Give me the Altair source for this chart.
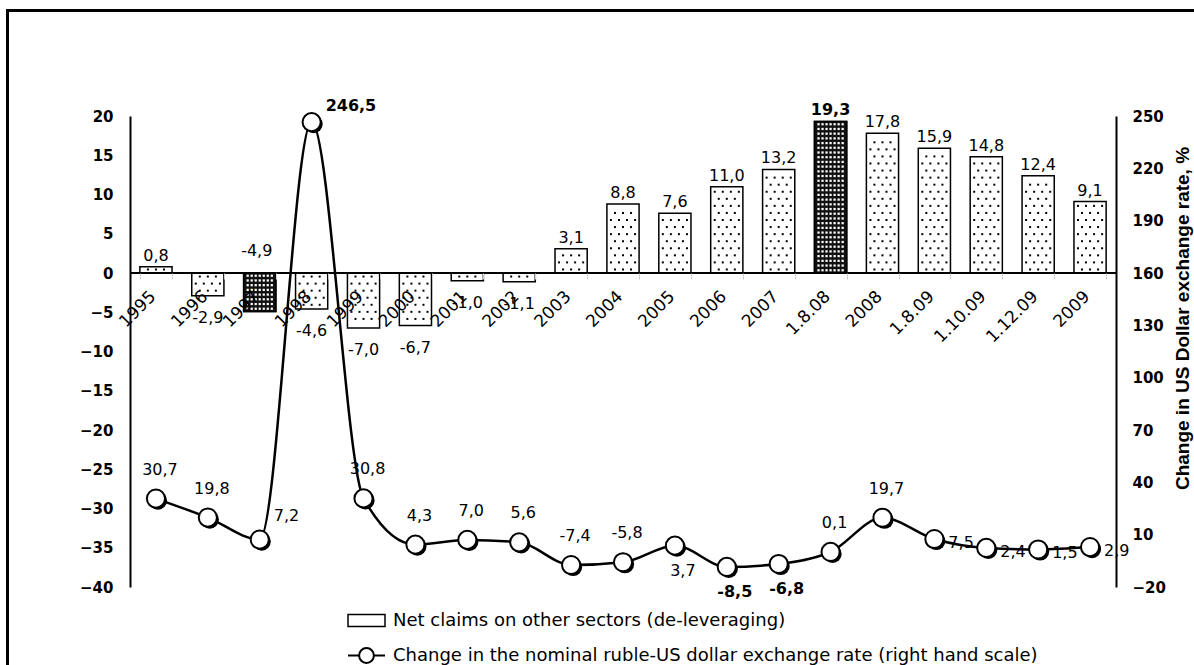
import altair as alt
import pandas as pd

# ---------------- data ----------------
categories = ["1995", "1996", "1997", "1998", "1999", "2000", "2001", "2002", "2003",
              "2004", "2005", "2006", "2007", "1.8.08", "2008", "1.8.09", "1.10.09",
              "1.12.09", "2009"]
net_claims = [0.8, -2.9, -4.9, -4.6, -7.0, -6.7, -1.0, -1.1, 3.1, 8.8, 7.6, 11.0, 13.2,
              19.3, 17.8, 15.9, 14.8, 12.4, 9.1]
fx_change = [30.7, 19.8, 7.2, 246.5, 30.8, 4.3, 7.0, 5.6, -7.4, -5.8, 3.7, -8.5, -6.8,
             0.1, 19.7, 7.5, 2.4, 1.5, 2.9]

bar_name = "Net claims on other sectors (de-leveraging)"
line_name = "Change in the nominal ruble-US dollar exchange rate (right hand scale)"
right_title = "Change in US Dollar exchange rate, %"

# ---------------- styling groups ----------------
highlight = ["1997", "1.8.08"]
bold_bar_labels = ["1.8.08"]
line_below = ["2005", "2006", "2007"]
line_right = ["1.8.09", "1.10.09", "1.12.09", "2009"]
line_upright = ["1997", "1998"]
bold_line_labels = ["1998", "2006", "2007"]


def fmt(v):
    return f"{v:.1f}".replace(".", ",")


df = pd.DataFrame({"cat": categories, "claims": net_claims, "fx": fx_change})
df["claims_lbl"] = [fmt(v) for v in net_claims]
df["fx_lbl"] = [fmt(v) for v in fx_change]
df["dark"] = df["cat"].isin(highlight)
df["bar_series"] = bar_name
df["line_series"] = line_name

W, H = 986, 471
FONT = "DejaVu Sans"

x_axis = alt.Axis(
    labelAngle=-45, labelFont=FONT, labelFontSize=17, labelColor="black",
    domain=False, ticks=True, tickBand="extent", tickColor="#cfcfcf",
    tickSize=6, labelPadding=9, labelOffset=-9, offset=-(H * 2 / 3), zindex=1,
)
x_scale = alt.Scale(paddingInner=0.38, paddingOuter=0.19)


def xe(band_pos=None):
    if band_pos is None:
        return alt.X("cat:N", sort=categories, title=None, scale=x_scale, axis=x_axis)
    return alt.X("cat:N", sort=categories, title=None, scale=x_scale, axis=x_axis,
                 bandPosition=band_pos)


x_enc = xe()

left_scale = alt.Scale(domain=[-40, 20], nice=False, zero=False)
right_scale = alt.Scale(domain=[-20, 250], nice=False, zero=False)

left_axis = alt.Axis(
    values=list(range(-40, 21, 5)), labelFont=FONT, labelFontWeight="bold",
    labelFontSize=15, labelColor="black", domainColor="black", domainWidth=2,
    ticks=False, labelPadding=17, grid=False, title=None,
)
right_axis = alt.Axis(
    orient="right", values=list(range(-20, 251, 30)), labelFont=FONT,
    labelFontWeight="bold", labelFontSize=15, labelColor="black",
    domainColor="black", domainWidth=2, ticks=False, labelPadding=16, grid=False,
    title=right_title, titleFont="Liberation Sans", titleFontWeight="bold",
    titleFontSize=19, titleColor="black", titleAngle=270, titleBaseline="top",
    titleAlign="center", titleX=57, titleY=202,
)


def ly(field):
    return alt.Y(field, scale=left_scale, axis=left_axis, title=None)


def ry(field):
    return alt.Y(field, scale=right_scale, axis=right_axis, title=right_title)


base = alt.Chart(df)

frame = alt.Chart(pd.DataFrame({"f": [0]})).mark_rect(
    fillOpacity=0, stroke="black", strokeWidth=3
).encode(
    x=alt.value(-122.5), x2=alt.value(W + 90), y=alt.value(-105.5), y2=alt.value(H + 90)
)

bars = base.mark_bar(stroke="black", strokeWidth=1.5).encode(
    x=x_enc,
    y=ly("claims:Q"),
    fill=alt.Fill(
        "bar_series:N",
        scale=alt.Scale(domain=[bar_name], range=["white"]),
        legend=alt.Legend(
            title=None, orient="none", legendX=217, legendY=485, padding=0,
            symbolType="M-1,-0.32H1V0.32H-1Z", symbolSize=1369,
            symbolStrokeColor="black", symbolStrokeWidth=1.5,
            labelFont=FONT, labelFontSize=18,
            labelColor="black", labelLimit=0, labelOffset=7,
        ),
    ),
)

# dotted fill pattern, one layer per column inside the bar
light_src = base.transform_filter("!datum.dark").transform_calculate(
    rows="sequence(0, max(1, floor((abs(datum.claims) - 0.75) / 0.9) + 1))"
).transform_flatten(["rows"]).transform_calculate(
    dy="(datum.claims < 0 ? -1 : 1) * (0.45 + datum.rows * 0.9)",
    par="datum.rows % 2",
)
light_dots = [
    light_src.transform_filter(f"datum.par == {0 if c % 2 == 1 else 1}").mark_square(
        size=4, color="black", opacity=1
    ).encode(x=xe((c + 1) / 8), y=ly("dy:Q"))
    for c in range(7)
]

dark_bars = base.transform_filter("datum.dark").mark_bar(
    fill="#111111", stroke="black", strokeWidth=1.5
).encode(x=x_enc, y=ly("claims:Q"))

dark_src = base.transform_filter("datum.dark").transform_calculate(
    rows="sequence(0, max(1, floor((abs(datum.claims) - 0.5) / 0.6) + 1))"
).transform_flatten(["rows"]).transform_calculate(
    dy="(datum.claims < 0 ? -1 : 1) * (0.35 + datum.rows * 0.6)",
)
dark_dots = [
    dark_src.mark_square(size=5, color="white", opacity=1).encode(
        x=xe((c + 1) / 8), y=ly("dy:Q")
    )
    for c in range(7)
]

zero = alt.Chart(pd.DataFrame({"z": [0]})).mark_rule(color="black", strokeWidth=2).encode(
    y=ly("z:Q")
)


def in_list(cats):
    return "indexof([" + ",".join(f"'{c}'" for c in cats) + "], datum.cat) >= 0"


bar_lbl_pos = base.transform_filter(
    f"datum.claims >= 0 && !({in_list(bold_bar_labels)})"
).mark_text(
    baseline="bottom", dy=-3, font=FONT, fontSize=16, color="black"
).encode(x=x_enc, y=ly("claims:Q"), text="claims_lbl:N")

bar_lbl_zero = base.transform_filter("datum.cat == '1997'").transform_calculate(
    ly="0"
).mark_text(
    baseline="bottom", dy=-14, dx=-3, font=FONT, fontSize=16, color="black"
).encode(x=x_enc, y=ly("ly:Q"), text="claims_lbl:N")

bar_lbl_bold = base.transform_filter(in_list(bold_bar_labels)).mark_text(
    baseline="bottom", dy=-3, font=FONT, fontSize=16, fontWeight="bold", color="black"
).encode(x=x_enc, y=ly("claims:Q"), text="claims_lbl:N")

bar_lbl_neg = base.transform_filter(
    "datum.claims < 0 && datum.cat != '1997'"
).mark_text(baseline="middle", dy=22, font=FONT, fontSize=16, color="black").encode(
    x=x_enc, y=ly("claims:Q"), text="claims_lbl:N"
)

left_layer = alt.layer(
    bars, *light_dots, dark_bars, *dark_dots, zero, bar_lbl_pos, bar_lbl_zero,
    bar_lbl_bold, bar_lbl_neg, frame
)

# ---------------- right (line) group ----------------
line = base.mark_line(color="black", strokeWidth=2.5, interpolate="monotone").encode(
    x=x_enc, y=ry("fx:Q")
)
shadow = base.mark_circle(size=330, color="black", opacity=1, xOffset=2, yOffset=2).encode(
    x=x_enc, y=ry("fx:Q")
)
points = base.mark_point(filled=True, fill="white", size=330, strokeWidth=2, opacity=1).encode(
    x=x_enc,
    y=ry("fx:Q"),
    stroke=alt.Stroke(
        "line_series:N",
        scale=alt.Scale(domain=[line_name], range=["black"]),
        legend=alt.Legend(
            title=None, orient="none", legendX=217, legendY=520, padding=0,
            symbolType="M-1,0H-0.4M0.4,0H1M-0.4,0A0.4,0.4,0,1,1,0.4,0A0.4,0.4,0,1,1,-0.4,0Z",
            symbolSize=1369, symbolStrokeWidth=2, symbolFillColor="white",
            symbolStrokeColor="black", labelFont=FONT, labelFontSize=18,
            labelColor="black", labelLimit=0, labelOffset=7,
        ),
    ),
)


def line_labels(cond, bold, **kw):
    return base.transform_filter(cond).mark_text(
        font=FONT, fontSize=16, color="black",
        fontWeight="bold" if bold else "normal", **kw
    ).encode(x=x_enc, y=ry("fx:Q"), text="fx_lbl:N")


special = line_below + line_right + line_upright
lbl_above = line_labels(f"!({in_list(special)})", False, baseline="middle", dy=-29, dx=4)
lbl_below_reg = line_labels(
    f"{in_list(line_below)} && !({in_list(bold_line_labels)})", False, baseline="middle", dy=25, dx=8
)
lbl_below_bold = line_labels(
    f"{in_list(line_below)} && {in_list(bold_line_labels)}", True, baseline="middle", dy=25, dx=8
)
lbl_right = line_labels(in_list(line_right), False, baseline="middle", dy=4, dx=14, align="left")
lbl_upright_reg = line_labels(
    f"{in_list(line_upright)} && !({in_list(bold_line_labels)})", False,
    baseline="middle", dy=-24, dx=14, align="left"
)
lbl_upright_bold = line_labels(
    f"{in_list(line_upright)} && {in_list(bold_line_labels)}", True,
    baseline="middle", dy=-16, dx=14, align="left"
)

right_layer = alt.layer(
    line, shadow, points, lbl_above, lbl_below_reg, lbl_below_bold, lbl_right,
    lbl_upright_reg, lbl_upright_bold
)

chart = alt.layer(left_layer, right_layer).resolve_scale(
    y="independent"
).properties(
    width=W, height=H,
    autosize=alt.AutoSizeParams(type="none"),
    padding={"left": 130, "top": 116, "right": 78, "bottom": 78},
    background="white",
).configure_view(stroke=None)

chart.save("out.html", embed_options={"renderer": "svg", "actions": False})
